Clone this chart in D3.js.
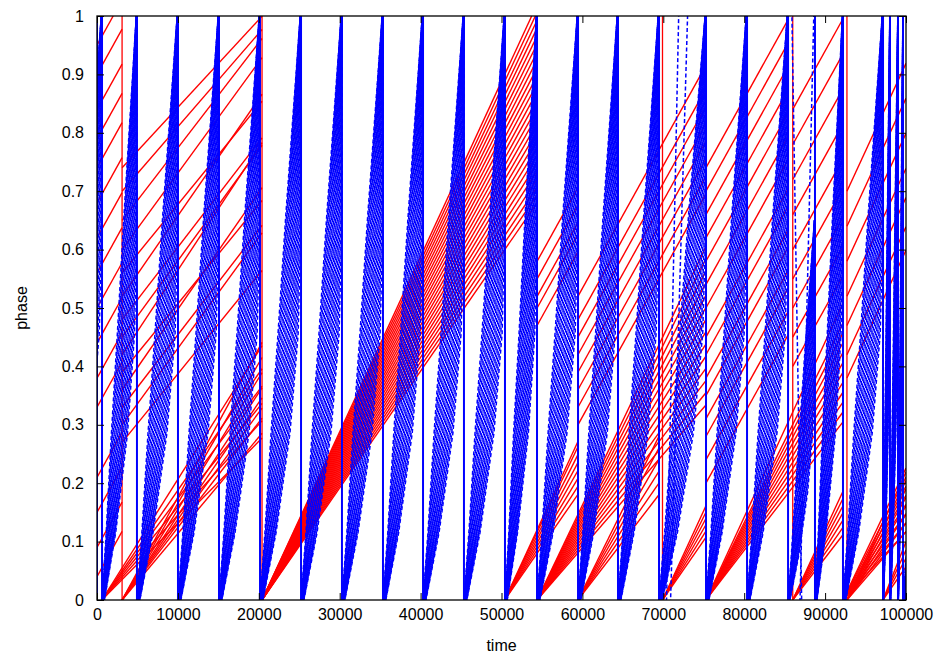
<!DOCTYPE html>
<html lang="en">
<head>
  <meta charset="UTF-8">
  <title>phase vs time</title>
  <script src="https://d3js.org/d3.v7.min.js"></script>
  <style>
    body {
      margin: 0;
      padding: 0;
      background: #fff;
    }
    svg {
      display: block;
      font-family: "Liberation Sans", Arial, sans-serif;
    }
    .axis text {
      font-size: 16px;
      fill: #000;
    }
    .axis line {
      stroke: #000;
    }
  </style>
</head>
<body>
  <div id="chart"></div>

  <script>
    const xTickValues = [0, 10000, 20000, 30000, 40000, 50000, 60000, 70000, 80000, 90000, 100000];
    const yTickValues = [0, 0.1, 0.2, 0.3, 0.4, 0.5, 0.6, 0.7, 0.8, 0.9, 1];

    // blue: times of the collective resets (solid verticals)
    const blueResets = [0, 620, 4940, 10010, 15080, 20150, 25220, 30280, 35350, 40300, 45360, 50430,
                        54390, 59460, 64400, 69470, 75280, 80350, 85420, 88750, 92210, 97160, 98020, 99010, 99630];
    // blue cycles: every dashed bundle rises from its start to its end
    const blueCycleStart = [-4300, 620, 4940, 10010, 15080, 20150, 25220, 30280, 35350, 40300, 45360, 50430,
                            54390, 59460, 64400, 69470, 75280, 80350, 85420, 88750, 92210, 97160, 98020, 99010, 99630];
    const blueCycleEnd = [620, 4940, 10010, 15080, 20150, 25220, 30280, 35350, 40300, 45360, 50430, 54390,
                          59460, 64400, 69470, 75280, 80350, 85420, 88750, 92210, 97160, 98020, 99010, 99630, 104500];
    const blueCycleTop = [1, 1, 1, 1, 1, 1, 1, 1, 1, 1, 1, 1, 1, 1, 1, 1, 1, 1, 0.65, 1, 1, 1, 1, 1, 1];
    // shape of one bundle: phase levels and the cycle fraction of its two edges
    const blueLevels = [0, 0.115, 0.286, 0.457, 0.66, 1];
    const blueLeftEdge = [0, 0.12, 0.27, 0.44, 0.63, 0.98];
    const blueRightEdge = [0.07, 0.39, 0.73, 0.93, 1, 1];
    // where each oscillator sits between the two edges
    const blueLag = [0, 0.05, 0.1, 0.16, 0.22, 0.28, 0.34, 0.4, 0.46, 0.52,
                     0.58, 0.64, 0.7, 0.76, 0.82, 0.88, 0.94, 1];
    // a few stray blue oscillators
    const blueStrayT0 = [70400, 70900, 87100, 86900];
    const blueStrayP0 = [0, 0, 0, 0];
    const blueStrayT1 = [71900, 73000, 85900, 88600];
    const blueStrayP1 = [1, 1, 1, 1];

    // red: groups of slow oscillators (phase at group start, rate in phase per 10000)
    const redStart = [0, 3100, 600, 3100, 20400, 50400, 54400, 54400, 59450, 59450,
                      69900, 75270, 75270, 86000, 86000, 92210, 92700, 92700, 97150];
    const redEnd = [3100, 20400, 20400, 20400, 54400, 59450, 75270, 59450, 69460, 75270,
                    75270, 85410, 92210, 92210, 92210, 100000, 100000, 100000, 100000];
    const redPhase = [
      [0.04, 0.09, 0.15, 0.21, 0.33, 0.38, 0.44, 0.5, 0.56, 0.62, 0.68, 0.74, 0.79, 0.84, 0.9, 0.95],
      [0.27, 0.3, 0.33, 0.36, 0.39, 0.42, 0.45, 0.48, 0.52, 0.56, 0.6, 0.65, 0.7, 0.74],
      [0], [0], [0], [0], [0],
      [0.47, 0.5, 0.52, 0.55, 0.58],
      [0],
      [0.3, 0.33, 0.36, 0.39, 0.42, 0.45, 0.48, 0.52],
      [0],
      [0.2, 0.24, 0.28, 0.31, 0.35, 0.38, 0.42, 0.45, 0.5, 0.54, 0.58, 0.62, 0.66, 0.7, 0.74],
      [0],
      [0.4, 0.45, 0.5, 0.55, 0.6, 0.66, 0.72, 0.78, 0.84],
      [0], [0],
      [0.38, 0.42, 0.47, 0.52, 0.58, 0.64, 0.7],
      [0], [0]
    ];
    const redRate = [
      [0.25],
      [0.17, 0.19, 0.18, 0.2, 0.17, 0.21, 0.19, 0.18, 0.2, 0.17, 0.19, 0.18, 0.16, 0.15],
      [0.14, 0.155, 0.17, 0.185, 0.2, 0.22],
      [0.165, 0.18, 0.19, 0.2, 0.21, 0.225, 0.24, 0.255],
      [0.2, 0.204, 0.208, 0.212, 0.216, 0.22, 0.224, 0.228, 0.232, 0.236, 0.24, 0.244, 0.248,
       0.252, 0.256, 0.26, 0.264, 0.268, 0.272, 0.276, 0.28, 0.284, 0.288, 0.292, 0.296, 0.3],
      [0.2, 0.215, 0.23, 0.245, 0.26, 0.275, 0.29, 0.3],
      [0.16, 0.17, 0.18, 0.19, 0.2, 0.21, 0.22, 0.23, 0.24, 0.25, 0.26, 0.27, 0.28, 0.29],
      [0.25],
      [0.18, 0.2, 0.22, 0.24, 0.26, 0.28],
      [0.25],
      [0.2, 0.22, 0.24, 0.26, 0.28, 0.3],
      [0.25],
      [0.18, 0.19, 0.2, 0.21, 0.22, 0.23, 0.24, 0.25, 0.26, 0.27, 0.28, 0.3],
      [0.25],
      [0.18, 0.2, 0.22, 0.24, 0.26, 0.28, 0.3],
      [0.15, 0.17, 0.19, 0.21, 0.23, 0.25, 0.27, 0.29],
      [0.3],
      [0.16, 0.18, 0.2, 0.22, 0.24, 0.26, 0.28, 0.3],
      [0.2, 0.25, 0.3, 0.35]
    ];
    const redResets = [3100, 20400, 50400, 54400, 59450, 69900, 75270, 86000, 92210, 92700, 97150];

    const W = 946, H = 660;
    const plot = { left: 97, right: 906, top: 16, bottom: 600 };

    const svg = d3.select("#chart")
                  .append("svg")
                  .attr("width", W)
                  .attr("height", H);

    const x = d3.scaleLinear().domain([0, 100000]).range([plot.left, plot.right]);
    const y = d3.scaleLinear().domain([0, 1]).range([plot.bottom, plot.top]);

    svg.append("clipPath")
       .attr("id", "plotclip")
       .append("rect")
       .attr("x", plot.left)
       .attr("y", plot.top)
       .attr("width", plot.right - plot.left)
       .attr("height", plot.bottom - plot.top);

    const g = svg.append("g").attr("clip-path", "url(#plotclip)");

    // red lines
    const redSegs = [];
    redStart.forEach((t0, i) => {
      const t1 = redEnd[i];
      const phases = redPhase[i], rates = redRate[i];
      const n = Math.max(phases.length, rates.length);
      for (let k = 0; k < n; k++) {
        const p0 = phases[Math.min(k, phases.length - 1)];
        const r = rates[Math.min(k, rates.length - 1)] / 10000;
        let tEnd = t1, pEnd = p0 + r * (t1 - t0);
        if (pEnd > 1) { tEnd = t0 + (1 - p0) / r; pEnd = 1; }
        redSegs.push([[t0, p0], [tEnd, pEnd]]);
      }
    });

    const line = d3.line().x(d => x(d[0])).y(d => y(d[1]));

    g.selectAll(".red")
     .data(redSegs)
     .enter()
     .append("path")
     .attr("class", "red")
     .attr("d", line)
     .attr("fill", "none")
     .attr("stroke", "#ff0000")
     .attr("stroke-width", 1.4);

    g.selectAll(".red-reset")
     .data(redResets)
     .enter()
     .append("line")
     .attr("class", "red-reset")
     .attr("x1", d => x(d)).attr("x2", d => x(d))
     .attr("y1", y(0)).attr("y2", y(1))
     .attr("stroke", "#ff0000")
     .attr("stroke-width", 1.3);

    // blue dashed bundles
    const blueSegs = [];
    blueCycleStart.forEach((ts, i) => {
      const te = blueCycleEnd[i], top = blueCycleTop[i];
      blueLag.forEach(w => {
        blueSegs.push(blueLevels.map((p, k) => {
          const u = blueLeftEdge[k] + w * (blueRightEdge[k] - blueLeftEdge[k]);
          return [ts + u * (te - ts), p * top];
        }));
      });
    });
    blueStrayT0.forEach((t0, i) => {
      blueSegs.push([[t0, blueStrayP0[i]], [blueStrayT1[i], blueStrayP1[i]]]);
    });

    g.selectAll(".blue")
     .data(blueSegs)
     .enter()
     .append("path")
     .attr("class", "blue")
     .attr("d", line)
     .attr("fill", "none")
     .attr("stroke", "#0000ff")
     .attr("stroke-width", 1.5)
     .attr("stroke-dasharray", "4,2.5")
     .attr("stroke-dashoffset", (d, i) => (i * 2.3) % 6.5);

    g.selectAll(".blue-reset")
     .data(blueResets)
     .enter()
     .append("line")
     .attr("class", "blue-reset")
     .attr("x1", d => x(d)).attr("x2", d => x(d))
     .attr("y1", y(0)).attr("y2", y(1))
     .attr("stroke", "#0000ff")
     .attr("stroke-width", 2);

    // axes, ticks pointing inwards, mirrored on top and right
    svg.append("g")
       .attr("class", "axis")
       .attr("transform", `translate(0, ${plot.bottom})`)
       .call(d3.axisBottom(x).tickValues(xTickValues).tickSize(-7).tickPadding(9).tickFormat(d3.format("d")))
       .call(a => a.select(".domain").remove());

    svg.append("g")
       .attr("class", "axis")
       .attr("transform", `translate(0, ${plot.top})`)
       .call(d3.axisTop(x).tickValues(xTickValues).tickSize(-7).tickFormat(""))
       .call(a => a.select(".domain").remove());

    svg.append("g")
       .attr("class", "axis")
       .attr("transform", `translate(${plot.left}, 0)`)
       .call(d3.axisLeft(y).tickValues(yTickValues).tickSize(-7).tickPadding(13).tickFormat(d3.format("~g")))
       .call(a => a.select(".domain").remove());

    svg.append("g")
       .attr("class", "axis")
       .attr("transform", `translate(${plot.right}, 0)`)
       .call(d3.axisRight(y).tickValues(yTickValues).tickSize(-7).tickFormat(""))
       .call(a => a.select(".domain").remove());

    svg.append("rect")
       .attr("x", plot.left)
       .attr("y", plot.top)
       .attr("width", plot.right - plot.left)
       .attr("height", plot.bottom - plot.top)
       .attr("fill", "none")
       .attr("stroke", "#000")
       .attr("stroke-width", 1.3);

    svg.append("text")
       .attr("x", (plot.left + plot.right) / 2)
       .attr("y", 651)
       .attr("text-anchor", "middle")
       .attr("font-size", 16)
       .text("time");

    svg.append("text")
       .attr("transform", `translate(27, ${(plot.top + plot.bottom) / 2}) rotate(-90)`)
       .attr("text-anchor", "middle")
       .attr("font-size", 16)
       .text("phase");
  </script>
</body>
</html>
